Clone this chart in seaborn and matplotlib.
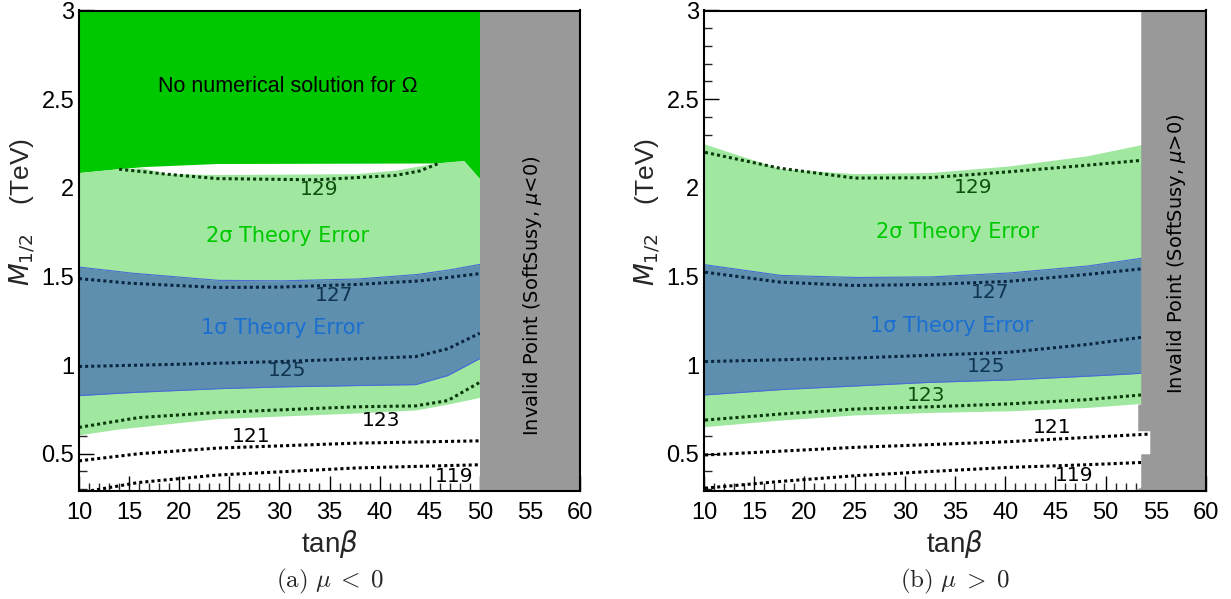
import numpy as np
import pandas as pd
import matplotlib
matplotlib.use("Agg")
import matplotlib.pyplot as plt
import seaborn as sns
from matplotlib.ticker import MultipleLocator, FormatStrFormatter

sns.set_theme(style="ticks")
plt.rcParams["font.family"] = ["Liberation Sans", "DejaVu Sans"]
plt.rcParams["mathtext.fontset"] = "dejavusans"

# ---------------- panel (a): mu < 0 ----------------
a_tb_nosol = [10, 14, 16.5, 23.8, 45.6, 48.4, 50]
a_m_nosol = [2.086, 2.108, 2.12, 2.137, 2.14, 2.152, 2.05]

a_tb_2s_hi = [10, 14, 16.4, 18.7, 23.8, 37.7, 41.6, 45.6, 48.4, 50]
a_m_2s_hi = [2.086, 2.108, 2.112, 2.08, 2.075, 2.08, 2.10, 2.14, 2.155, 2.05]
a_tb_2s_lo = [10, 14, 23.8, 37.7, 43.6, 46.8, 50]
a_m_2s_lo = [0.607, 0.64, 0.698, 0.73, 0.747, 0.78, 0.818]

a_tb_1s = [10, 15, 23.8, 30, 37.7, 43.6, 46.8, 50]
a_m_1s_hi = [1.553, 1.52, 1.478, 1.475, 1.485, 1.51, 1.535, 1.568]
a_m_1s_lo = [0.828, 0.845, 0.867, 0.877, 0.885, 0.89, 0.941, 1.037]

a_contours = {
    129: ([14, 18.7, 23.8, 33.7, 41.6, 44, 46], [2.105, 2.077, 2.052, 2.045, 2.07, 2.095, 2.14]),
    127: ([10, 15, 23.8, 30, 37.7, 44, 50], [1.488, 1.462, 1.438, 1.44, 1.455, 1.475, 1.516]),
    125: ([10, 20, 30.1, 40, 43.6, 46.8, 50], [0.992, 1.005, 1.02, 1.04, 1.048, 1.092, 1.18]),
    123: ([10, 15.95, 23.8, 37.7, 43.6, 46.8, 50], [0.649, 0.704, 0.733, 0.765, 0.77, 0.80, 0.903]),
    121: ([10, 15.95, 23.8, 37.7, 50], [0.46, 0.50, 0.532, 0.56, 0.573]),
    119: ([10, 15.95, 23.8, 37.7, 50], [0.28, 0.338, 0.38, 0.42, 0.438]),
}
a_labels = {129: (34, 1.99), 127: (35.5, 1.395), 125: (30.8, 0.97),
            123: (40.1, 0.686), 121: (27.2, 0.60), 119: (47.4, 0.37)}
a_label_colors = {129: "#0f4f0f", 127: "#103550", 125: "#103550",
                  123: "black", 121: "black", 119: "black"}

# ---------------- panel (b): mu > 0 ----------------
b_tb = [10.1, 17.6, 25.0, 32.5, 40.3, 48.1, 53.6]
b_m_2s_hi = [2.246, 2.108, 2.08, 2.086, 2.123, 2.18, 2.244]
b_m_1s_hi = [1.566, 1.506, 1.494, 1.497, 1.519, 1.558, 1.603]
b_m_1s_lo = [0.832, 0.862, 0.882, 0.903, 0.916, 0.937, 0.954]
b_m_2s_lo = [0.653, 0.69, 0.719, 0.733, 0.742, 0.761, 0.784]

b_contours = {
    129: (b_tb, [2.20, 2.11, 2.055, 2.057, 2.09, 2.127, 2.155]),
    127: (b_tb, [1.524, 1.468, 1.449, 1.455, 1.472, 1.511, 1.543]),
    125: ([10.1, 25.0, 40.3, 48.1, 53.6], [1.02, 1.04, 1.072, 1.116, 1.157]),
    123: (b_tb, [0.69, 0.724, 0.752, 0.765, 0.781, 0.805, 0.832]),
    121: ([10.1, 25.0, 40.3, 48.1, 54.4], [0.493, 0.536, 0.568, 0.592, 0.611]),
    119: (b_tb, [0.306, 0.344, 0.376, 0.40, 0.423, 0.438, 0.451]),
}
b_labels = {129: (36.8, 2.0), 127: (38.5, 1.41), 125: (38.1, 0.992),
            123: (32.1, 0.828), 121: (44.7, 0.649), 119: (46.9, 0.376)}
b_label_colors = {129: "#0f4f0f", 127: "#103550", 125: "#103550",
                  123: "#0f4f0f", 121: "black", 119: "black"}

# invalid (grey) region edge for panel b, from bottom to top
b_gray_m = [0.29, 0.31, 0.50, 0.50, 0.63, 0.63, 0.78, 0.78, 3.0]
b_gray_tb = [52.4, 53.5, 53.5, 54.4, 54.4, 53.2, 53.2, 53.5, 53.5]

line_colors = {129: "#0a3a0a", 127: "#0a2540", 125: "#0a2540",
               123: "#0a3a0a", 121: "black", 119: "black"}

GREEN = "#00c800"
LGREEN = "#a0e8a0"
BLUE = "#5f8fae"
GRAY = "#999999"


def style_axes(ax):
    ax.set_xlim(10, 60)
    ax.set_ylim(0.29, 3)
    ax.xaxis.set_major_locator(MultipleLocator(5))
    ax.xaxis.set_minor_locator(MultipleLocator(1))
    ax.yaxis.set_major_locator(MultipleLocator(0.5))
    ax.yaxis.set_minor_locator(MultipleLocator(0.1))
    ax.yaxis.set_major_formatter(FormatStrFormatter("%g"))
    ax.tick_params(which="major", direction="in", length=11, width=1.0,
                   color="black", labelcolor="black")
    ax.tick_params(which="minor", direction="in", length=5.5, width=1.0)
    ax.tick_params(axis="x", pad=8)
    for lab in ax.get_xticklabels() + ax.get_yticklabels():
        lab.set_fontsize(17)
    for s in ax.spines.values():
        s.set_visible(True)
        s.set_linewidth(1.5)
        s.set_color("black")
        s.set_zorder(10)
    ax.set_xlabel(r"tan$\beta$", fontsize=20, labelpad=3)
    ax.set_ylabel(r"$M_{1/2}$    (TeV)", fontsize=19)
    ax.yaxis.set_label_coords(-0.082, 0.58)
    ax.grid(False)


def draw_contours(ax, contours, labels, label_colors):
    rows = []
    for lev, (xs, ys) in contours.items():
        for x, y in zip(xs, ys):
            rows.append({"tb": x, "m": y, "level": str(lev)})
    df = pd.DataFrame(rows)
    pal = {str(k): v for k, v in line_colors.items()}
    sns.lineplot(data=df, x="tb", y="m", hue="level", palette=pal, sort=False,
                 estimator=None, ax=ax, legend=False, lw=2.2,
                 linestyle=(0, (1, 1)), zorder=5)
    for lev, (x, y) in labels.items():
        ax.text(x, y, str(lev), fontsize=14.5, ha="center", va="center",
                color=label_colors[lev], family="DejaVu Sans", zorder=6)


fig = plt.figure(figsize=(12.31, 5.99), dpi=100)
axa = fig.add_axes([79 / 1231, 108 / 599, 501 / 1231, 480.5 / 599])
axb = fig.add_axes([704 / 1231, 108 / 599, 502 / 1231, 480.5 / 599])

# ---- panel a
grid_a = np.linspace(10, 50, 400)
axa.fill_between(grid_a, np.interp(grid_a, a_tb_nosol, a_m_nosol), 3,
                 color=GREEN, lw=0, zorder=1)
axa.fill_between(grid_a, np.interp(grid_a, a_tb_2s_lo, a_m_2s_lo),
                 np.interp(grid_a, a_tb_2s_hi, a_m_2s_hi), color=LGREEN, lw=0, zorder=2)
axa.fill_between(grid_a, np.interp(grid_a, a_tb_1s, a_m_1s_lo),
                 np.interp(grid_a, a_tb_1s, a_m_1s_hi), color=BLUE, lw=0, zorder=3)
axa.plot(grid_a, np.interp(grid_a, a_tb_1s, a_m_1s_lo), color="#4a6ad8", lw=0.8, zorder=3)
axa.plot(grid_a, np.interp(grid_a, a_tb_1s, a_m_1s_hi), color="#4a6ad8", lw=0.8, zorder=3)
axa.axvspan(50, 60, color=GRAY, lw=0, zorder=7)
draw_contours(axa, a_contours, a_labels, a_label_colors)
axa.text(30.8, 2.574, "No numerical solution for Ω", fontsize=15.5,
         ha="center", va="center", color="black", zorder=6)
axa.text(30.8, 1.73, "2σ Theory Error", fontsize=15, ha="center", va="center",
         color=GREEN, family="DejaVu Sans", zorder=6)
axa.text(30.3, 1.21, "1σ Theory Error", fontsize=15, ha="center", va="center",
         color="#1a6fd0", family="DejaVu Sans", zorder=6)
axa.text(55.3, 1.39, r"Invalid Point (SoftSusy, $\mu$<0)", fontsize=14,
         rotation=90, ha="center", va="center", color="black",
         family="DejaVu Sans", zorder=8)
style_axes(axa)

# ---- panel b
grid_b = np.linspace(10, 53.6, 400)
axb.fill_between(grid_b, np.interp(grid_b, b_tb, b_m_2s_lo),
                 np.interp(grid_b, b_tb, b_m_2s_hi), color=LGREEN, lw=0, zorder=2)
axb.fill_between(grid_b, np.interp(grid_b, b_tb, b_m_1s_lo),
                 np.interp(grid_b, b_tb, b_m_1s_hi), color=BLUE, lw=0, zorder=3)
axb.plot(grid_b, np.interp(grid_b, b_tb, b_m_1s_lo), color="#4a6ad8", lw=0.8, zorder=3)
axb.plot(grid_b, np.interp(grid_b, b_tb, b_m_1s_hi), color="#4a6ad8", lw=0.8, zorder=3)
axb.fill_betweenx(b_gray_m, b_gray_tb, 60, color=GRAY, lw=0, zorder=7)
draw_contours(axb, b_contours, b_labels, b_label_colors)
axb.text(35.3, 1.748, "2σ Theory Error", fontsize=15, ha="center", va="center",
         color=GREEN, family="DejaVu Sans", zorder=6)
axb.text(34.7, 1.223, "1σ Theory Error", fontsize=15, ha="center", va="center",
         color="#1a6fd0", family="DejaVu Sans", zorder=6)
axb.text(57.1, 1.63, r"Invalid Point (SoftSusy, $\mu$>0)", fontsize=14,
         rotation=90, ha="center", va="center", color="black",
         family="DejaVu Sans", zorder=8)
style_axes(axb)

# captions
plt.rcParams["mathtext.fontset"] = "cm"
fig.text(330 / 1231, 0.03, r"$\mathrm{(a)}\ \mu\;<\;0$", fontsize=18, ha="center", va="center")
fig.text(955 / 1231, 0.03, r"$\mathrm{(b)}\ \mu\;>\;0$", fontsize=18, ha="center", va="center")

fig.savefig("out.png", dpi=100)
